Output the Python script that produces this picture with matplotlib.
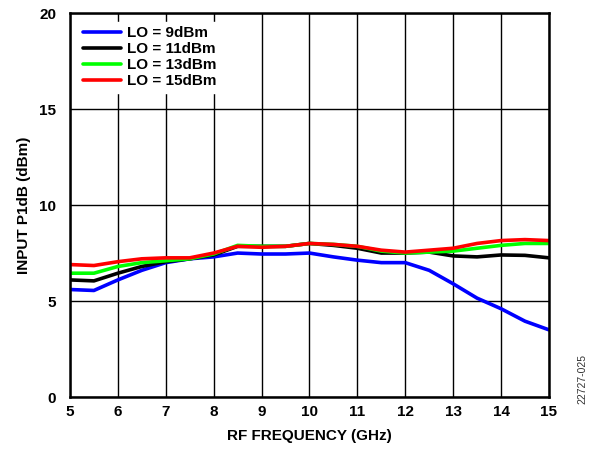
import matplotlib
matplotlib.use("Agg")
import matplotlib.pyplot as plt
import numpy as np

plt.rcParams["font.family"] = ["Liberation Sans", "DejaVu Sans"]
plt.rcParams["font.weight"] = "bold"

# frequency points (GHz)
freq = [5, 5.5, 6, 6.5, 7, 7.5, 8, 8.5, 9, 9.5, 10, 10.5, 11, 11.5, 12, 12.5, 13, 13.5, 14, 14.5, 15]

# input P1dB (dBm) for each LO drive level
lo9 = [5.6, 5.55, 6.1, 6.6, 7.0, 7.2, 7.3, 7.5, 7.45, 7.45, 7.5, 7.3, 7.13, 7.0, 7.0, 6.6, 5.9, 5.15, 4.6, 3.95, 3.5]
lo11 = [6.1, 6.05, 6.45, 6.8, 7.05, 7.2, 7.4, 7.85, 7.85, 7.85, 8.0, 7.9, 7.75, 7.5, 7.5, 7.55, 7.35, 7.3, 7.4, 7.38, 7.25]
lo13 = [6.45, 6.45, 6.8, 7.0, 7.1, 7.2, 7.45, 7.9, 7.85, 7.85, 8.0, 7.95, 7.85, 7.6, 7.5, 7.55, 7.6, 7.75, 7.9, 8.0, 8.0]
lo15 = [6.9, 6.85, 7.05, 7.2, 7.25, 7.25, 7.5, 7.85, 7.8, 7.85, 8.0, 7.95, 7.85, 7.65, 7.55, 7.65, 7.75, 8.0, 8.15, 8.2, 8.15]

labels = ["LO = 9dBm", "LO = 11dBm", "LO = 13dBm", "LO = 15dBm"]
colors = ["#0000ff", "#000000", "#00ff00", "#ff0000"]

fig = plt.figure(figsize=(5.96, 4.49), dpi=100)
ax = fig.add_axes([0.1174, 0.1158, 0.8036, 0.855])

for y, lab, c in zip([lo9, lo11, lo13, lo15], labels, colors):
    ax.plot(freq, y, color=c, lw=2.6, label=lab, solid_capstyle="round",
            solid_joinstyle="round")

ax.set_xlim(5, 15)
ax.set_ylim(0, 20)
ax.set_xticks(np.arange(5, 16, 1))
ax.set_yticks([0, 5, 10, 15, 20])
ax.grid(True, color="black", lw=1.0)
ax.set_axisbelow(True)
for s in ax.spines.values():
    s.set_linewidth(1.8)
ax.tick_params(length=0, labelsize=11)
ax.tick_params(axis="y", pad=10)
ax.tick_params(axis="x", pad=6)
for t in ax.get_xticklabels() + ax.get_yticklabels():
    t.set_fontweight("bold")

ax.set_xlabel("RF FREQUENCY (GHz)", fontsize=11, fontweight="bold", labelpad=7)
ax.set_ylabel("INPUT P1dB (dBm)", fontsize=11, fontweight="bold", labelpad=6)

leg = ax.legend(loc="upper left", frameon=True, fontsize=11, handlelength=2.5,
                borderpad=0.3, labelspacing=0.13, handletextpad=0.4,
                borderaxespad=0.55, fancybox=False)
leg.get_frame().set_edgecolor("white")
leg.get_frame().set_alpha(1)
for t in leg.get_texts():
    t.set_fontweight("bold")

fig.text(0.978, 0.10, "22727-025", rotation=90, fontsize=7.5, fontweight="normal",
         color="#333333", ha="center", va="bottom")

fig.savefig("out.png", dpi=100)
